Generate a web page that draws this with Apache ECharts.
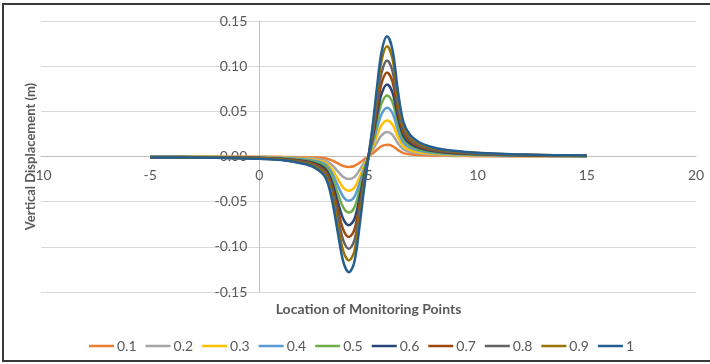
<!DOCTYPE html>
<html>
<head>
<meta charset="utf-8">
<script src="https://cdn.jsdelivr.net/npm/echarts@6/dist/echarts.min.js"></script>
<style>
html,body{margin:0;padding:0;background:#fff;}
#c{width:710px;height:364px;}
</style>
</head>
<body>
<div id="c"></div>
<script>
// Location of monitoring points (x)
var xs = [-5, -4, -3, -2, -1, 0, 1, 2, 2.5, 3, 3.3, 3.6, 3.85, 4.1, 4.35, 4.6, 4.8, 5, 5.2, 5.4, 5.6, 5.85, 6.1, 6.35, 6.6, 6.9, 7.3, 7.8, 8.5, 9.5, 10.5, 11.5, 12.5, 13.5, 15];

var seriesNames = ['0.1', '0.2', '0.3', '0.4', '0.5', '0.6', '0.7', '0.8', '0.9', '1'];

var s01 = [-0.0001, -0.0001, -0.0001, -0.0001, -0.0002, -0.0002, -0.0004, -0.0007, -0.0011, -0.0020, -0.0041, -0.0077, -0.0105, -0.0115, -0.0105, -0.0068, -0.0032, 0,
  0.0035, 0.0077, 0.0114, 0.0130, 0.0116, 0.0071, 0.0037, 0.0024, 0.0016, 0.0011, 0.0007, 0.0005, 0.0003, 0.0002, 0.0002, 0.0001, 0.0001];
var s02 = [-0.0002, -0.0002, -0.0002, -0.0003, -0.0004, -0.0005, -0.0008, -0.0016, -0.0023, -0.0043, -0.0088, -0.0166, -0.0228, -0.0250, -0.0228, -0.0146, -0.0068, 0,
  0.0073, 0.0160, 0.0235, 0.0270, 0.0240, 0.0146, 0.0077, 0.0049, 0.0032, 0.0022, 0.0015, 0.0010, 0.0007, 0.0005, 0.0004, 0.0003, 0.0002];
var s03 = [-0.0003, -0.0003, -0.0004, -0.0004, -0.0006, -0.0007, -0.0012, -0.0024, -0.0036, -0.0065, -0.0134, -0.0252, -0.0347, -0.0380, -0.0347, -0.0223, -0.0104, 0,
  0.0108, 0.0237, 0.0348, 0.0399, 0.0354, 0.0216, 0.0114, 0.0072, 0.0048, 0.0033, 0.0023, 0.0015, 0.0011, 0.0008, 0.0006, 0.0005, 0.0003];
var s04 = [-0.0004, -0.0004, -0.0005, -0.0006, -0.0008, -0.0010, -0.0015, -0.0031, -0.0046, -0.0084, -0.0172, -0.0326, -0.0448, -0.0490, -0.0448, -0.0287, -0.0134, 0,
  0.0146, 0.0321, 0.0471, 0.0540, 0.0479, 0.0292, 0.0154, 0.0097, 0.0065, 0.0045, 0.0030, 0.0020, 0.0014, 0.0010, 0.0008, 0.0006, 0.0004];
var s05 = [-0.0005, -0.0005, -0.0006, -0.0007, -0.0010, -0.0012, -0.0019, -0.0039, -0.0058, -0.0106, -0.0218, -0.0411, -0.0566, -0.0620, -0.0566, -0.0363, -0.0169, 0,
  0.0183, 0.0401, 0.0589, 0.0676, 0.0599, 0.0366, 0.0193, 0.0122, 0.0081, 0.0056, 0.0038, 0.0025, 0.0018, 0.0013, 0.0010, 0.0008, 0.0005];
var s06 = [-0.0006, -0.0006, -0.0007, -0.0009, -0.0012, -0.0015, -0.0024, -0.0048, -0.0071, -0.0131, -0.0267, -0.0505, -0.0695, -0.0760, -0.0695, -0.0446, -0.0208, 0,
  0.0216, 0.0474, 0.0696, 0.0798, 0.0708, 0.0432, 0.0228, 0.0144, 0.0096, 0.0066, 0.0045, 0.0030, 0.0021, 0.0015, 0.0012, 0.0009, 0.0006];
var s07 = [-0.0007, -0.0007, -0.0008, -0.0010, -0.0014, -0.0017, -0.0028, -0.0056, -0.0083, -0.0153, -0.0313, -0.0591, -0.0813, -0.0890, -0.0813, -0.0521, -0.0243, 0,
  0.0252, 0.0553, 0.0812, 0.0931, 0.0826, 0.0504, 0.0266, 0.0168, 0.0112, 0.0077, 0.0053, 0.0035, 0.0025, 0.0018, 0.0014, 0.0011, 0.0007];
var s08 = [-0.0008, -0.0008, -0.0010, -0.0012, -0.0016, -0.0020, -0.0032, -0.0064, -0.0096, -0.0175, -0.0359, -0.0677, -0.0932, -0.1020, -0.0932, -0.0598, -0.0279, 0,
  0.0288, 0.0632, 0.0928, 0.1064, 0.0944, 0.0576, 0.0304, 0.0192, 0.0128, 0.0088, 0.0060, 0.0040, 0.0028, 0.0020, 0.0016, 0.0012, 0.0008];
var s09 = [-0.0009, -0.0009, -0.0011, -0.0013, -0.0018, -0.0022, -0.0036, -0.0072, -0.0108, -0.0198, -0.0404, -0.0763, -0.1051, -0.1150, -0.1051, -0.0674, -0.0314, 0,
  0.0330, 0.0724, 0.1064, 0.1220, 0.1082, 0.0660, 0.0348, 0.0220, 0.0147, 0.0101, 0.0069, 0.0046, 0.0032, 0.0023, 0.0018, 0.0014, 0.0009];
var s10 = [-0.0010, -0.0010, -0.0012, -0.0015, -0.0020, -0.0025, -0.0040, -0.0080, -0.0120, -0.0220, -0.0450, -0.0850, -0.1170, -0.1280, -0.1170, -0.0750, -0.0350, 0,
  0.0360, 0.0790, 0.1160, 0.1330, 0.1180, 0.0720, 0.0380, 0.0240, 0.0160, 0.0110, 0.0075, 0.0050, 0.0035, 0.0025, 0.0020, 0.0015, 0.0010];

var allValues = [s01, s02, s03, s04, s05, s06, s07, s08, s09, s10];
var colors = ['#ED7D31', '#A5A5A5', '#FFC000', '#5B9BD5', '#70AD47', '#264478', '#9E480E', '#636363', '#997300', '#255E91'];

var xTicks = [-10, -5, 0, 5, 10, 15, 20];
var yTicks = [-0.15, -0.10, -0.05, 0.00, 0.05, 0.10, 0.15];

var FONT = 'Lato, "Open Sans", sans-serif';

// grid geometry
var GL = 41, GR = 14, GT = 21, GB = 72, W = 710, H = 364;
var plotW = W - GL - GR, plotH = H - GT - GB;
// shift axes so they cross at zero (Excel style)
var xMin = xTicks[0], xMax = xTicks[xTicks.length - 1];
var yMin = yTicks[0], yMax = yTicks[yTicks.length - 1];
var yAxisShift = -plotW * (0 - xMin) / (xMax - xMin);
var xAxisShift = -plotH * (0 - yMin) / (yMax - yMin);

var series = allValues.map(function (vals, i) {
  return {
    name: seriesNames[i],
    type: 'line',
    data: xs.map(function (x, j) { return [x, vals[j]]; }),
    smooth: 0.35,
    symbol: 'none',
    showSymbol: false,
    lineStyle: { width: 2.5, color: colors[i] },
    itemStyle: { color: colors[i] },
    z: 2 + i
  };
});

var chart = echarts.init(document.getElementById('c'), null, { renderer: 'canvas' });
chart.setOption({
  animation: false,
  backgroundColor: '#fff',
  color: colors,
  grid: { left: GL, right: GR, top: GT, bottom: GB, containLabel: false, outerBoundsMode: 'none' },
  xAxis: {
    type: 'value',
    min: xMin, max: xMax, interval: 5,
    offset: xAxisShift,
    axisLine: { onZero: false, lineStyle: { color: '#BFBFBF', width: 1 } },
    axisTick: { show: false },
    splitLine: { show: false },
    axisLabel: { color: '#595959', fontSize: 14, fontFamily: FONT, margin: 12 },
    name: 'Location of Monitoring Points',
    nameLocation: 'middle',
    nameGap: 146,
    nameTextStyle: { color: '#595959', fontSize: 14, fontWeight: 'bold', fontFamily: FONT }
  },
  yAxis: {
    type: 'value',
    min: yMin, max: yMax, interval: 0.05,
    offset: yAxisShift,
    axisLine: { show: true, onZero: false, lineStyle: { color: '#BFBFBF', width: 1 } },
    axisTick: { show: false },
    splitLine: { show: true, lineStyle: { color: '#D9D9D9', width: 1 } },
    axisLabel: {
      color: '#595959', fontSize: 14, fontFamily: FONT, margin: 12,
      formatter: function (v) { return v.toFixed(2); }
    },
    name: 'Vertical Displacement (m)',
    nameLocation: 'middle',
    nameGap: 222,
    nameTextStyle: { color: '#595959', fontSize: 13, fontWeight: 'bold', fontFamily: FONT }
  },
  legend: {
    data: seriesNames.map(function (n) { return { name: n, icon: 'rect' }; }),
    top: 334,
    left: 84,
    itemWidth: 25,
    itemHeight: 2.5,
    itemGap: 9,
    itemStyle: { borderWidth: 0 },
    textStyle: { color: '#595959', fontSize: 14, fontFamily: FONT, padding: [0, 0, 0, -2] }
  },
  graphic: [{
    type: 'rect',
    shape: { x: 3, y: 4, width: 712, height: 357 },
    style: { fill: 'none', stroke: '#3A3A3A', lineWidth: 2 },
    silent: true,
    z: 100
  }],
  series: series
});
</script>
</body>
</html>
